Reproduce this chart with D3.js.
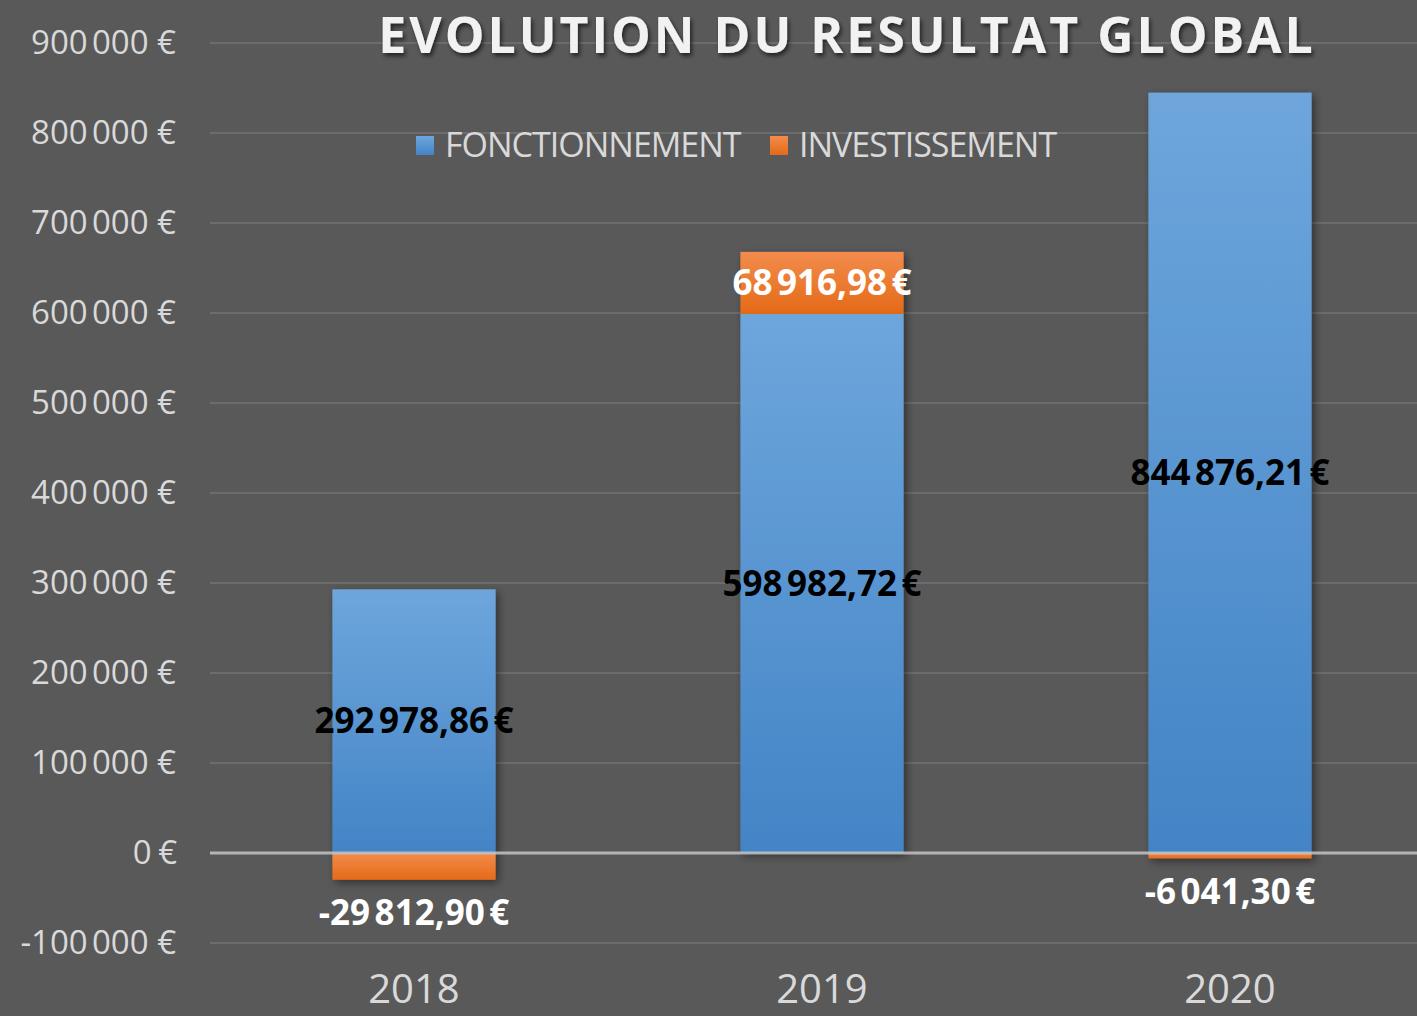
<!DOCTYPE html>
<html>
<head>
<meta charset="utf-8">
<script src="https://cdn.jsdelivr.net/npm/d3@7"></script>
<style>
  body { margin: 0; background: #595959; overflow: hidden; }
  svg { display: block; }
</style>
</head>
<body>
<div id="chart"></div>
<script>
(function() {

  // data
  let years = ["2018", "2019", "2020"];
  let fonctionnement = [292978.86, 598982.72, 844876.21];
  let investissement = [-29812.90, 68916.98, -6041.30];
  let seriesNames = ["FONCTIONNEMENT", "INVESTISSEMENT"];
  let yTicks = [-100000, 0, 100000, 200000, 300000, 400000, 500000, 600000, 700000, 800000, 900000];

  let width = 1417;
  let height = 1016;
  let font = "'Open Sans', sans-serif";

  let svg = d3.select("#chart").append("svg")
    .attr("width", width)
    .attr("height", height);

  svg.append("rect")
    .attr("width", width)
    .attr("height", height)
    .attr("fill", "#595959");

  let defs = svg.append("defs");

  let blueGrad = defs.append("linearGradient")
    .attr("id", "blueGrad")
    .attr("x1", 0).attr("y1", 0).attr("x2", 0).attr("y2", 1);
  blueGrad.append("stop").attr("offset", "0%").attr("stop-color", "#6ea6dc");
  blueGrad.append("stop").attr("offset", "100%").attr("stop-color", "#4384c6");

  let orangeGrad = defs.append("linearGradient")
    .attr("id", "orangeGrad")
    .attr("x1", 0).attr("y1", 0).attr("x2", 0).attr("y2", 1);
  orangeGrad.append("stop").attr("offset", "0%").attr("stop-color", "#f28c4c");
  orangeGrad.append("stop").attr("offset", "100%").attr("stop-color", "#e46a17");

  let shadow = defs.append("filter")
    .attr("id", "shadow")
    .attr("x", "-20%").attr("y", "-20%").attr("width", "140%").attr("height", "140%");
  shadow.append("feDropShadow")
    .attr("dx", 3).attr("dy", 3).attr("stdDeviation", 4)
    .attr("flood-color", "#000").attr("flood-opacity", 0.45);

  let textShadow = defs.append("filter").attr("id", "textShadow");
  textShadow.append("feDropShadow")
    .attr("dx", 2).attr("dy", 3).attr("stdDeviation", 2)
    .attr("flood-color", "#000").attr("flood-opacity", 0.6);

  let x = d3.scaleBand()
    .domain(years)
    .range([210, 1434])
    .paddingInner(0.6)
    .paddingOuter(0.3);

  let y = d3.scaleLinear()
    .domain([-100000, 900000])
    .range([943, 43]);

  // grid lines
  svg.append("g")
    .selectAll("line")
    .data(yTicks.filter(d => d !== 0))
    .join("line")
    .attr("x1", 210)
    .attr("x2", width)
    .attr("y1", d => y(d))
    .attr("y2", d => y(d))
    .attr("stroke", "#6c6c6c")
    .attr("stroke-width", 2);

  // y axis labels
  let fmt = d => (d < 0 ? "-" : "") + d3.format(",.0f")(Math.abs(d)).replace(/,/g, "\u202f") + "\u00a0€";
  let yAxis = svg.append("g")
    .attr("transform", "translate(176,0)")
    .call(d3.axisLeft(y).tickValues(yTicks).tickSize(0).tickPadding(0).tickFormat(fmt));
  yAxis.select(".domain").remove();
  yAxis.selectAll("text")
    .attr("fill", "#d9d9d9")
    .attr("font-size", 33)
    .attr("letter-spacing", -1)
    .attr("dy", "0.32em")
    .attr("font-family", font);

  // stacked bars
  let rows = years.map((yr, i) => {
    let f = fonctionnement[i];
    let v = investissement[i];
    return {
      year: yr,
      f: f,
      v: v,
      fFrom: 0, fTo: f,
      vFrom: v >= 0 ? f : 0,
      vTo: v >= 0 ? f + v : v
    };
  });

  let bars = svg.append("g").attr("filter", "url(#shadow)");

  bars.selectAll(".fonct")
    .data(rows)
    .join("rect")
    .attr("class", "fonct")
    .attr("x", d => x(d.year))
    .attr("width", x.bandwidth())
    .attr("y", d => y(d.fTo))
    .attr("height", d => y(d.fFrom) - y(d.fTo))
    .attr("fill", "url(#blueGrad)");

  bars.selectAll(".invest")
    .data(rows)
    .join("rect")
    .attr("class", "invest")
    .attr("x", d => x(d.year))
    .attr("width", x.bandwidth())
    .attr("y", d => y(Math.max(d.vFrom, d.vTo)))
    .attr("height", d => Math.abs(y(d.vFrom) - y(d.vTo)))
    .attr("fill", "url(#orangeGrad)");

  // zero line
  svg.append("line")
    .attr("x1", 210)
    .attr("x2", width)
    .attr("y1", y(0))
    .attr("y2", y(0))
    .attr("stroke", "#c4c4c4")
    .attr("stroke-opacity", 0.85)
    .attr("stroke-width", 3);

  // year labels
  svg.append("g")
    .selectAll("text")
    .data(years)
    .join("text")
    .attr("x", d => x(d) + x.bandwidth() / 2)
    .attr("y", 1003)
    .attr("text-anchor", "middle")
    .attr("fill", "#d9d9d9")
    .attr("font-size", 40)
    .attr("font-family", font)
    .text(d => d);

  // value labels
  let money = d => {
    let s = d3.format(",.2f")(Math.abs(d)).replace(/,/g, "\u202f").replace(".", ",");
    return (d < 0 ? "-" : "") + s + "\u202f€";
  };

  let labels = svg.append("g")
    .attr("font-family", font)
    .attr("font-weight", "bold")
    .attr("font-size", 35)
    .attr("letter-spacing", -1)
    .attr("text-anchor", "middle");

  labels.selectAll(".flabel")
    .data(rows)
    .join("text")
    .attr("class", "flabel")
    .attr("x", d => x(d.year) + x.bandwidth() / 2)
    .attr("y", d => y(d.f / 2))
    .attr("dy", "0.35em")
    .attr("fill", "#000")
    .text(d => money(d.f));

  labels.selectAll(".vlabel")
    .data(rows)
    .join("text")
    .attr("class", "vlabel")
    .attr("x", d => x(d.year) + x.bandwidth() / 2)
    .attr("y", d => d.v >= 0 ? y((d.vFrom + d.vTo) / 2) : y(d.vTo) + 33)
    .attr("dy", "0.35em")
    .attr("fill", "#fff")
    .text(d => money(d.v));

  // title
  svg.append("text")
    .attr("x", 847)
    .attr("y", 53)
    .attr("text-anchor", "middle")
    .attr("fill", "#f2f2f2")
    .attr("font-family", font)
    .attr("font-weight", "bold")
    .attr("font-size", 50)
    .attr("letter-spacing", 3)
    .attr("filter", "url(#textShadow)")
    .text("EVOLUTION DU RESULTAT GLOBAL");

  // legend
  let legendColors = ["url(#blueGrad)", "url(#orangeGrad)"];
  let legendX = [416, 770];
  let legend = svg.append("g")
    .selectAll("g")
    .data(seriesNames)
    .join("g")
    .attr("transform", (d, i) => "translate(" + legendX[i] + ",136)");

  legend.append("rect")
    .attr("width", 18)
    .attr("height", 19)
    .attr("fill", (d, i) => legendColors[i]);

  legend.append("text")
    .attr("x", 29)
    .attr("y", 21)
    .attr("fill", "#d9d9d9")
    .attr("font-size", 34)
    .attr("letter-spacing", -1)
    .attr("font-family", font)
    .text(d => d);

})();
</script>
</body>
</html>
